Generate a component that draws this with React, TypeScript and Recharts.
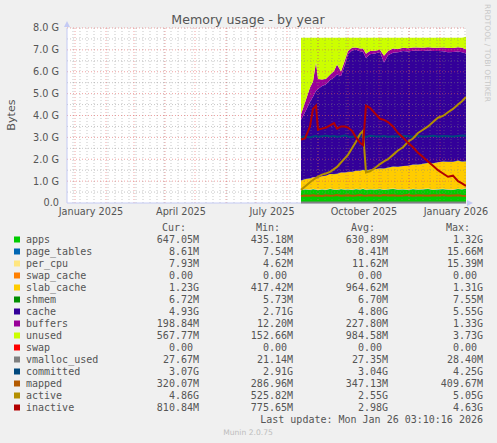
import { Area, CartesianGrid, ComposedChart, Line, ReferenceLine, XAxis, YAxis } from "recharts"

// x = days since 1 Jan 2025, values in GB
const days = [226, 230, 235, 238, 241, 243, 247, 251, 255, 259, 262, 266, 270, 273, 277, 281, 285, 288, 291, 295, 300, 305, 309, 313, 318, 323, 328, 333, 338, 343, 348, 353, 358, 363, 368, 373, 378, 383, 387, 391]

const apps = [0.58, 0.62, 0.6, 0.63, 0.61, 0.59, 0.62, 0.6, 0.64, 0.61, 0.6, 0.63, 0.61, 0.62, 0.6, 0.63, 0.61, 0.64, 0.6, 0.62, 0.61, 0.63, 0.6, 0.62, 0.64, 0.61, 0.62, 0.6, 0.63, 0.61, 0.62, 0.64, 0.6, 0.62, 0.63, 0.61, 0.6, 0.64, 0.62, 0.65]
const pageTables = [0.008, 0.008, 0.009, 0.008, 0.009, 0.008, 0.008, 0.009, 0.008, 0.008, 0.009, 0.008, 0.008, 0.008, 0.009, 0.008, 0.008, 0.009, 0.008, 0.008, 0.009, 0.008, 0.008, 0.009, 0.008, 0.008, 0.009, 0.008, 0.008, 0.009, 0.008, 0.008, 0.009, 0.008, 0.008, 0.009, 0.008, 0.008, 0.009, 0.008]
const perCpu = [0.012, 0.013, 0.012, 0.014, 0.013, 0.012, 0.011, 0.012, 0.013, 0.012, 0.011, 0.012, 0.013, 0.012, 0.011, 0.012, 0.013, 0.012, 0.011, 0.012, 0.012, 0.011, 0.012, 0.013, 0.012, 0.011, 0.012, 0.011, 0.012, 0.011, 0.01, 0.011, 0.012, 0.011, 0.01, 0.011, 0.01, 0.009, 0.008, 0.008]
const swapCache = [0, 0, 0, 0, 0, 0, 0, 0, 0, 0, 0, 0, 0, 0, 0, 0, 0, 0, 0, 0, 0, 0, 0, 0, 0, 0, 0, 0, 0, 0, 0, 0, 0, 0, 0, 0, 0, 0, 0, 0]
const slabCache = [0.42, 0.45, 0.5, 0.52, 0.54, 0.55, 0.58, 0.62, 0.66, 0.69, 0.71, 0.74, 0.76, 0.78, 0.8, 0.82, 0.84, 0.85, 0.86, 0.88, 0.91, 0.93, 0.95, 0.97, 1.0, 1.02, 1.05, 1.08, 1.1, 1.12, 1.15, 1.17, 1.19, 1.22, 1.24, 1.25, 1.26, 1.28, 1.25, 1.23]
const shmem = [0.006, 0.007, 0.007, 0.006, 0.007, 0.007, 0.006, 0.007, 0.007, 0.007, 0.006, 0.007, 0.007, 0.007, 0.006, 0.007, 0.007, 0.007, 0.006, 0.007, 0.007, 0.007, 0.006, 0.007, 0.007, 0.007, 0.006, 0.007, 0.007, 0.007, 0.006, 0.007, 0.007, 0.007, 0.006, 0.007, 0.007, 0.007, 0.007, 0.007]
const cache = [2.78, 3.05, 3.5, 3.68, 3.95, 4.05, 4.12, 4.18, 4.29, 4.41, 4.54, 4.41, 4.94, 5.37, 5.55, 5.53, 5.46, 5.4, 5.14, 5.27, 5.29, 5.32, 4.85, 5.13, 5.2, 5.23, 5.25, 5.22, 5.2, 5.2, 5.15, 5.13, 5.13, 5.08, 5.04, 5.0, 5.02, 4.98, 5.0, 4.93]
const buffers = [0.25, 0.45, 0.65, 0.7, 1.3, 0.45, 0.3, 0.25, 0.25, 0.3, 0.45, 0.2, 0.2, 0.15, 0.12, 0.1, 0.12, 0.15, 0.2, 0.15, 0.12, 0.1, 0.3, 0.2, 0.2, 0.15, 0.15, 0.15, 0.15, 0.15, 0.15, 0.15, 0.15, 0.15, 0.17, 0.2, 0.18, 0.2, 0.2, 0.2]
const unused = [3.5, 2.96, 2.28, 2.0, 1.13, 1.89, 1.91, 1.88, 1.69, 1.52, 1.23, 1.55, 1.02, 0.61, 0.46, 0.45, 0.5, 0.49, 0.73, 0.61, 0.6, 0.55, 0.83, 0.61, 0.49, 0.52, 0.46, 0.48, 0.45, 0.45, 0.46, 0.44, 0.46, 0.46, 0.45, 0.47, 0.47, 0.43, 0.46, 0.57]
const swap = [0, 0, 0, 0, 0, 0, 0, 0, 0, 0, 0, 0, 0, 0, 0, 0, 0, 0, 0, 0, 0, 0, 0, 0, 0, 0, 0, 0, 0, 0, 0, 0, 0, 0, 0, 0, 0, 0, 0, 0]
const vmallocUsed = [0.021, 0.026, 0.027, 0.027, 0.028, 0.027, 0.027, 0.028, 0.027, 0.027, 0.028, 0.027, 0.027, 0.027, 0.028, 0.027, 0.027, 0.028, 0.027, 0.027, 0.027, 0.028, 0.027, 0.027, 0.028, 0.027, 0.027, 0.027, 0.028, 0.027, 0.027, 0.028, 0.027, 0.027, 0.027, 0.028, 0.027, 0.027, 0.028, 0.027]
const committed = [3.02, 3.05, 3.0, 3.04, 3.06, 3.03, 3.05, 3.07, 3.04, 3.06, 3.03, 3.05, 3.08, 3.04, 3.02, 3.06, 3.04, 3.05, 3.02, 3.07, 3.05, 3.04, 3.06, 3.03, 3.05, 3.04, 3.07, 3.05, 3.03, 3.06, 3.04, 3.05, 3.07, 3.04, 3.06, 3.05, 3.04, 3.06, 3.08, 3.07]
const mapped = [0.32, 0.34, 0.33, 0.35, 0.33, 0.34, 0.32, 0.35, 0.33, 0.34, 0.36, 0.33, 0.34, 0.35, 0.33, 0.34, 0.36, 0.34, 0.33, 0.35, 0.34, 0.33, 0.36, 0.34, 0.35, 0.33, 0.34, 0.36, 0.33, 0.35, 0.34, 0.33, 0.35, 0.34, 0.36, 0.33, 0.34, 0.35, 0.33, 0.32]
const active = [0.6, 0.75, 0.95, 1.05, 1.15, 1.2, 1.3, 1.35, 1.42, 1.55, 1.65, 1.85, 2.05, 2.2, 2.5, 2.8, 3.15, 3.3, 1.4, 1.45, 1.6, 1.78, 1.9, 2.0, 2.2, 2.4, 2.55, 2.8, 2.95, 3.2, 3.35, 3.5, 3.7, 3.9, 3.98, 4.15, 4.3, 4.5, 4.65, 4.85]
const inactive = [2.9, 2.95, 3.5, 4.3, 4.45, 3.35, 3.4, 3.45, 3.55, 3.65, 3.4, 3.5, 3.5, 3.45, 3.3, 3.0, 2.75, 2.65, 4.45, 4.35, 4.1, 3.85, 3.8, 3.7, 3.5, 3.2, 3.0, 2.75, 2.55, 2.3, 2.1, 1.9, 1.7, 1.5, 1.35, 1.2, 1.25, 1.0, 0.9, 0.78]

const tickDays = [16, 106, 197, 289, 381]
const tickLabels = ["January 2025", "April 2025", "July 2025", "October 2025", "January 2026"]
const yTicks = [0, 1, 2, 3, 4, 5, 6, 7, 8]

const legendNames = ["apps", "page_tables", "per_cpu", "swap_cache", "slab_cache", "shmem", "cache", "buffers", "unused", "swap", "vmalloc_used", "committed", "mapped", "active", "inactive"]
const legendCur = ["647.05M", "8.61M", "7.93M", "0.00", "1.23G", "6.72M", "4.93G", "198.84M", "567.77M", "0.00", "27.67M", "3.07G", "320.07M", "4.86G", "810.84M"]
const legendMin = ["435.18M", "7.54M", "4.62M", "0.00", "417.42M", "5.73M", "2.71G", "12.20M", "152.66M", "0.00", "21.14M", "2.91G", "286.96M", "525.82M", "775.65M"]
const legendAvg = ["630.89M", "8.41M", "11.62M", "0.00", "964.62M", "6.70M", "4.80G", "227.80M", "984.58M", "0.00", "27.35M", "3.04G", "347.13M", "2.55G", "2.98G"]
const legendMax = ["1.32G", "15.66M", "15.39M", "0.00", "1.31G", "7.55M", "5.55G", "1.33G", "3.73G", "0.00", "28.40M", "4.25G", "409.67M", "5.05G", "4.63G"]

const COLORS: Record<string, string> = {
  apps: "#00CC00",
  page_tables: "#0066B3",
  per_cpu: "#FFE680",
  swap_cache: "#FF8000",
  slab_cache: "#FFCC00",
  shmem: "#008F00",
  cache: "#330099",
  buffers: "#990099",
  unused: "#CCFF00",
  swap: "#FF0000",
  vmalloc_used: "#808080",
  committed: "#00487D",
  mapped: "#B35A00",
  active: "#B38F00",
  inactive: "#B30000",
}

const areaKeys = ["apps", "page_tables", "per_cpu", "swap_cache", "slab_cache", "shmem", "cache", "buffers", "unused", "swap"]
const lineKeys = ["vmalloc_used", "committed", "mapped", "active", "inactive"]

const data = days.map((day, i) => ({
  day,
  apps: apps[i],
  page_tables: pageTables[i],
  per_cpu: perCpu[i],
  swap_cache: swapCache[i],
  slab_cache: slabCache[i],
  shmem: shmem[i],
  cache: cache[i],
  buffers: buffers[i],
  unused: unused[i],
  swap: swap[i],
  vmalloc_used: vmallocUsed[i],
  committed: committed[i],
  mapped: mapped[i],
  active: active[i],
  inactive: inactive[i],
}))

// grid positions (days since 1 Jan 2025)
const dayOf = (y: number, m: number, d: number) => Math.round((Date.UTC(y, m, d) - Date.UTC(2025, 0, 1)) / 86400000)
const monthLines: number[] = []
for (let m = 0; m <= 12; m++) monthLines.push(dayOf(2025, m, 1))
const weekLines: number[] = []
for (let d = dayOf(2024, 11, 30); d <= 390; d += 7) weekLines.push(d)
const halfLines = [0.5, 1.5, 2.5, 3.5, 4.5, 5.5, 6.5, 7.5]

const FONT = "'DejaVu Sans', sans-serif"
const MONO = "'DejaVu Sans Mono', monospace"
const TEXT = "#555"
const AXIS = "#c4caf4"
const MAJOR = "rgba(225,90,90,0.55)"
const MINOR = "rgba(130,130,130,0.45)"

export default function App() {
  return (
    <div style={{ position: "absolute", left: 0, top: 0, width: 497, height: 443, background: "#F0F0F0", fontFamily: FONT }}>
      <ComposedChart width={497} height={225} data={data} margin={{ top: 28, right: 31, bottom: 0, left: 0 }}>
        <CartesianGrid fill="#fff" horizontal={false} vertical={false} />
        <XAxis
          type="number"
          dataKey="day"
          domain={[-8, 391]}
          allowDataOverflow
          ticks={tickDays}
          interval={0}
          tickFormatter={(v: number) => tickLabels[tickDays.indexOf(v)] ?? ""}
          tickLine={false}
          tickSize={3}
          height={22}
          axisLine={{ stroke: AXIS }}
          tick={{ fill: TEXT, fontSize: 9.7, fontFamily: FONT }}
        />
        <YAxis
          domain={[0, 8]}
          ticks={yTicks}
          interval={0}
          width={67}
          tickLine={false}
          tickFormatter={(v: number) => (v === 0 ? "0.0" : `${v.toFixed(1)} G`)}
          axisLine={{ stroke: AXIS }}
          tick={{ fill: TEXT, fontSize: 9.7, fontFamily: FONT }}
        />
        {areaKeys.map((k) => (
          <Area
            key={k}
            type="linear"
            dataKey={k}
            stackId="mem"
            stroke="none"
            fill={COLORS[k]}
            fillOpacity={1}
            isAnimationActive={false}
            dot={false}
            activeDot={false}
          />
        ))}
        {weekLines.map((d) => (
          <ReferenceLine key={`w${d}`} x={d} stroke={MINOR} strokeDasharray="1 2" zIndex={450} />
        ))}
        {halfLines.map((v) => (
          <ReferenceLine key={`h${v}`} y={v} stroke={MINOR} strokeDasharray="1 2" zIndex={450} />
        ))}
        {monthLines.map((d) => (
          <ReferenceLine key={`m${d}`} x={d} stroke={MAJOR} strokeDasharray="1 2" zIndex={450} />
        ))}
        {yTicks.slice(1).map((v) => (
          <ReferenceLine key={`g${v}`} y={v} stroke={MAJOR} strokeDasharray="1 2" zIndex={450} />
        ))}
        {lineKeys.map((k) => (
          <Line
            key={k}
            type="linear"
            dataKey={k}
            stroke={COLORS[k]}
            strokeWidth={2}
            dot={false}
            activeDot={false}
            isAnimationActive={false}
            zIndex={500}
          />
        ))}
      </ComposedChart>
      <svg width={497} height={443} style={{ position: "absolute", left: 0, top: 0, pointerEvents: "none" }}>
        <text x={248} y={24} textAnchor="middle" fontSize={12.6} fill={TEXT} fontFamily={FONT}>
          Memory usage - by year
        </text>
        <text x={0} y={0} transform="translate(15,115) rotate(-90)" textAnchor="middle" fontSize={11.2} fill={TEXT} fontFamily={FONT}>
          Bytes
        </text>
        <text x={0} y={0} transform="translate(485,53) rotate(90)" textAnchor="middle" fontSize={7.6} fill="#c8c8c8" fontFamily={FONT}>
          RRDTOOL / TOBI OETIKER
        </text>
        <polygon points="64,27 70,27 67,21" fill={AXIS} />
        <polygon points="467,200 467,206 473,203" fill={AXIS} />
        <g fontFamily={MONO} fontSize={10} fill={TEXT}>
          <text x={186} y={231} textAnchor="end">Cur:</text>
          <text x={280} y={231} textAnchor="end">Min:</text>
          <text x={375} y={231} textAnchor="end">Avg:</text>
          <text x={470} y={231} textAnchor="end">Max:</text>
          {legendNames.map((name, i) => {
            const y = 243 + i * 12
            const cols = [legendCur[i], legendMin[i], legendAvg[i], legendMax[i]]
            const rights = [199, 293, 388, 483]
            return (
              <g key={name}>
                <rect x={14} y={y - 6.5} width={6} height={6} fill={COLORS[name]} />
                <text x={26} y={y}>{name}</text>
                {cols.map((v, j) => (
                  <text key={j} x={rights[j] - (/[MG]$/.test(v) ? 0 : 6)} y={y} textAnchor="end">
                    {v}
                  </text>
                ))}
              </g>
            )
          })}
          <text x={483} y={423} textAnchor="end">Last update: Mon Jan 26 03:10:16 2026</text>
        </g>
        <text x={248} y={435} textAnchor="middle" fontSize={7.6} fill="#bdbdbd" fontFamily={FONT}>
          Munin 2.0.75
        </text>
      </svg>
    </div>
  )
}
